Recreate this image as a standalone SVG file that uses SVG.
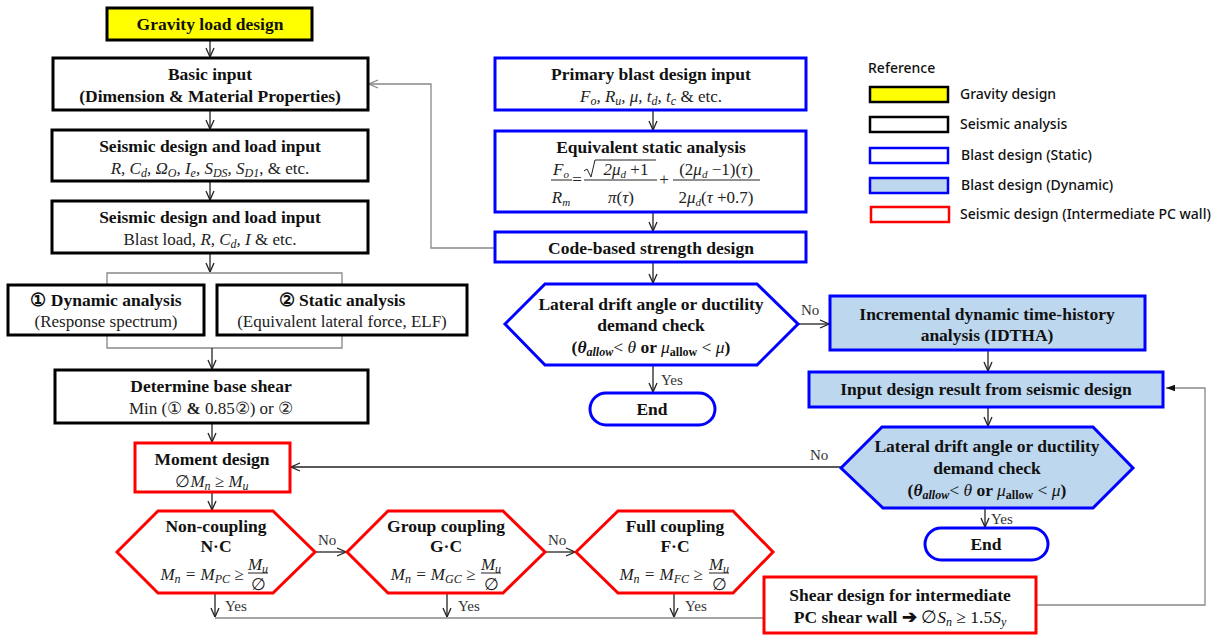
<svg xmlns="http://www.w3.org/2000/svg" width="1221" height="635" viewBox="0 0 1221 635">
<style>
.bk{fill:#fff;stroke:#000;stroke-width:3}
.yl{fill:#ffff00;stroke:#000;stroke-width:3}
.bl{fill:#fff;stroke:#0000ff;stroke-width:3}
.bd{fill:#bdd7ee;stroke:#0000ff;stroke-width:3}
.rd{fill:#fff;stroke:#ff0000;stroke-width:3}
.h{font-family:"Liberation Serif",serif;font-size:17.5px;font-weight:bold;text-anchor:middle;fill:#111}
.n{font-family:"Liberation Serif",serif;font-size:17px;text-anchor:middle;fill:#222}
.m{font-family:"Liberation Serif",serif;font-size:17px;font-style:italic;text-anchor:middle;fill:#222}
.lb{font-family:"Liberation Serif",serif;font-size:15px;fill:#333}
.c{fill:none;stroke:#222;stroke-width:1.3}
.g{fill:none;stroke:#888;stroke-width:1.3}
.fb{stroke:#222;stroke-width:1;fill:none}
.lg{font-family:"Noto Sans","Noto Sans CJK KR",sans-serif;font-size:14px;font-weight:500;fill:#111}
</style>
<defs>
<marker id="a" viewBox="0 0 10 10" refX="10" refY="5" markerWidth="10" markerHeight="10" markerUnits="userSpaceOnUse" orient="auto"><path d="M1,1 L10,5 L1,9" fill="none" stroke="#222" stroke-width="1.3"/></marker>
<marker id="ag" viewBox="0 0 10 10" refX="10" refY="5" markerWidth="10" markerHeight="10" markerUnits="userSpaceOnUse" orient="auto"><path d="M1,1 L10,5 L1,9" fill="none" stroke="#888" stroke-width="1.3"/></marker>
<marker id="af" viewBox="0 0 10 10" refX="10" refY="5" markerWidth="9" markerHeight="9" markerUnits="userSpaceOnUse" orient="auto"><path d="M0,1.5 L10,5 L0,8.5 Z" fill="#111"/></marker>
</defs>

<g id="connectors">
<line class="c" x1="210" y1="40" x2="210" y2="57" marker-end="url(#a)"/>
<line class="c" x1="210" y1="110" x2="210" y2="129" marker-end="url(#a)"/>
<line class="c" x1="210" y1="181" x2="210" y2="200" marker-end="url(#a)"/>
<line class="c" x1="210" y1="253" x2="210" y2="272" marker-end="url(#a)"/>
<path class="g" d="M107,284 V273 H342 V284"/>
<path class="g" d="M107,336 V348 H342 V336"/>
<line class="c" x1="212" y1="348" x2="212" y2="369" marker-end="url(#a)"/>
<line class="c" x1="212" y1="423" x2="212" y2="442" marker-end="url(#a)"/>
<line class="c" x1="212" y1="492" x2="212" y2="510" marker-end="url(#a)"/>
<line class="c" x1="315" y1="552" x2="346" y2="552" marker-end="url(#a)"/>
<line class="c" x1="545" y1="552" x2="575" y2="552" marker-end="url(#a)"/>
<line class="c" x1="215" y1="593" x2="215" y2="617" marker-end="url(#a)"/>
<line class="c" x1="447" y1="593" x2="447" y2="617" marker-end="url(#a)"/>
<line class="c" x1="674" y1="593" x2="674" y2="617" marker-end="url(#a)"/>
<line class="g" x1="215" y1="618" x2="764" y2="618"/>
<path class="g" d="M1036,605 H1205 V388 H1166" marker-end="url(#af)"/>
<line class="c" x1="653" y1="110" x2="653" y2="130" marker-end="url(#a)"/>
<line class="c" x1="653" y1="212" x2="653" y2="231" marker-end="url(#a)"/>
<path class="g" d="M495,248 H431 V84 H369" marker-end="url(#ag)"/>
<line class="c" x1="653" y1="262" x2="653" y2="283" marker-end="url(#a)"/>
<line class="c" x1="798" y1="324" x2="829" y2="324" marker-end="url(#a)"/>
<line class="c" x1="653" y1="365" x2="653" y2="392" marker-end="url(#a)"/>
<line class="c" x1="988" y1="350" x2="988" y2="371" marker-end="url(#a)"/>
<line class="c" x1="988" y1="407" x2="988" y2="426" marker-end="url(#a)"/>
<line class="c" x1="841" y1="467" x2="291" y2="467" marker-end="url(#a)"/>
<line class="c" x1="985" y1="508" x2="985" y2="527" marker-end="url(#a)"/>
<text class="lb" x="318" y="545">No</text>
<text class="lb" x="548" y="545">No</text>
<text class="lb" x="225" y="611">Yes</text>
<text class="lb" x="458" y="611">Yes</text>
<text class="lb" x="685" y="611">Yes</text>
<text class="lb" x="801" y="315">No</text>
<text class="lb" x="661" y="385">Yes</text>
<text class="lb" x="810" y="460">No</text>
<text class="lb" x="991" y="524">Yes</text>
</g>

<g id="gravity">
<rect class="yl" x="107" y="8" width="205" height="32"/>
<text class="h" x="210" y="30">Gravity load design</text>
</g>
<g id="basic-input">
<rect class="bk" x="53" y="58" width="315" height="52"/>
<text class="h" x="210" y="80">Basic input</text>
<text class="h" x="210" y="102">(Dimension &amp; Material Properties)</text>
</g>
<g id="seismic-input-1">
<rect class="bk" x="52" y="130" width="316" height="51"/>
<text class="h" x="210" y="152">Seismic design and load input</text>
<text class="m" x="210" y="174">R, C<tspan font-size="12" dy="3">d</tspan><tspan dy="-3">, Ω</tspan><tspan font-size="12" dy="3">O</tspan><tspan dy="-3">, I</tspan><tspan font-size="12" dy="3">e</tspan><tspan dy="-3">, S</tspan><tspan font-size="12" dy="3">DS</tspan><tspan dy="-3">, S</tspan><tspan font-size="12" dy="3">D1</tspan><tspan dy="-3" font-style="normal">, &amp; etc.</tspan></text>
</g>
<g id="seismic-input-2">
<rect class="bk" x="52" y="201" width="316" height="52"/>
<text class="h" x="210" y="223">Seismic design and load input</text>
<text class="n" x="210" y="245">Blast load, <tspan font-style="italic">R, C</tspan><tspan font-style="italic" font-size="12" dy="3">d</tspan><tspan dy="-3" font-style="italic">, I</tspan> &amp; etc.</text>
</g>
<g id="dynamic-analysis">
<rect class="bk" x="8" y="285" width="196" height="50"/>
<text class="h" x="106" y="306">① Dynamic analysis</text>
<text class="n" x="106" y="327">(Response spectrum)</text>
</g>
<g id="static-analysis">
<rect class="bk" x="217" y="285" width="250" height="50"/>
<text class="h" x="342" y="306">② Static  analysis</text>
<text class="n" x="342" y="327">(Equivalent lateral force, ELF)</text>
</g>
<g id="base-shear">
<rect class="bk" x="55" y="370" width="313" height="53"/>
<text class="h" x="211" y="392">Determine base shear</text>
<text class="n" x="211" y="414">Min (① <tspan font-weight="bold">&amp;</tspan> 0.85②) or ②</text>
</g>
<g id="moment-design">
<rect class="rd" x="135" y="443" width="155" height="49"/>
<text class="h" x="212" y="465">Moment design</text>
<text class="m" x="212" y="487"><tspan font-style="normal">∅</tspan>M<tspan font-size="12" dy="3">n</tspan><tspan dy="-3"> ≥ M</tspan><tspan font-size="12" dy="3">u</tspan></text>
</g>
<g id="non-coupling">
<polygon class="rd" points="117,552 158,511 273,511 315,552 273,593 158,593"/>
<text class="h" x="216" y="532">Non-coupling</text>
<text class="h" x="216" y="552">N·C</text>
<text class="m" x="202" y="580">M<tspan font-size="12" dy="3">n</tspan><tspan dy="-3"> = M</tspan><tspan font-size="12" dy="3">PC</tspan><tspan dy="-3"> ≥</tspan></text>
<text class="m" x="258" y="570">M<tspan font-size="12" dy="3">u</tspan></text>
<line class="fb" x1="248" y1="573" x2="268" y2="573"/>
<text class="n" x="258" y="590">∅</text>
</g>
<g id="group-coupling">
<polygon class="rd" points="347,552 388,511 503,511 545,552 503,593 388,593"/>
<text class="h" x="446" y="532">Group  coupling</text>
<text class="h" x="446" y="552">G·C</text>
<text class="m" x="433" y="580">M<tspan font-size="12" dy="3">n</tspan><tspan dy="-3"> = M</tspan><tspan font-size="12" dy="3">GC</tspan><tspan dy="-3"> ≥</tspan></text>
<text class="m" x="491" y="570">M<tspan font-size="12" dy="3">u</tspan></text>
<line class="fb" x1="481" y1="573" x2="501" y2="573"/>
<text class="n" x="491" y="590">∅</text>
</g>
<g id="full-coupling">
<polygon class="rd" points="576,552 618,511 733,511 773,552 733,593 618,593"/>
<text class="h" x="675" y="532">Full coupling</text>
<text class="h" x="675" y="552">F·C</text>
<text class="m" x="661" y="580">M<tspan font-size="12" dy="3">n</tspan><tspan dy="-3"> = M</tspan><tspan font-size="12" dy="3">FC</tspan><tspan dy="-3">  ≥</tspan></text>
<text class="m" x="719" y="570">M<tspan font-size="12" dy="3">u</tspan></text>
<line class="fb" x1="709" y1="573" x2="729" y2="573"/>
<text class="n" x="719" y="590">∅</text>
</g>
<g id="shear-design">
<rect class="rd" x="764" y="577" width="272" height="56"/>
<text class="h" x="900" y="601">Shear design for intermediate</text>
<text class="h" x="900" y="623">PC shear wall ➔ <tspan font-weight="normal">∅</tspan><tspan font-weight="normal" font-style="italic">S</tspan><tspan font-weight="normal" font-style="italic" font-size="12" dy="3">n</tspan><tspan font-weight="normal" dy="-3"> ≥ 1.5</tspan><tspan font-weight="normal" font-style="italic">S</tspan><tspan font-weight="normal" font-style="italic" font-size="12" dy="3">y</tspan></text>
</g>

<g id="primary-blast">
<rect class="bl" x="495" y="58" width="311" height="52"/>
<text class="h" x="651" y="80">Primary blast design input</text>
<text class="m" x="651" y="102">F<tspan font-size="12" dy="3">o</tspan><tspan dy="-3">, R</tspan><tspan font-size="12" dy="3">u</tspan><tspan dy="-3">, μ, t</tspan><tspan font-size="12" dy="3">d</tspan><tspan dy="-3">, t</tspan><tspan font-size="12" dy="3">c</tspan><tspan dy="-3" font-style="normal"> &amp; etc.</tspan></text>
</g>
<g id="equivalent-static">
<rect class="bl" x="495" y="131" width="311" height="81"/>
<text class="h" x="651" y="153">Equivalent static analysis</text>
<text class="m" x="561" y="175">F<tspan font-size="11" dy="3">o</tspan></text>
<line class="fb" x1="551" y1="180" x2="572" y2="180"/>
<text class="m" x="561" y="203">R<tspan font-size="11" dy="3">m</tspan></text>
<text class="n" x="577" y="185" font-size="15">=</text>
<path class="fb" d="M584,171 L587,169 L591,177 L595,160 H656"/>
<text class="m" x="626" y="175">2μ<tspan font-size="11" dy="3">d</tspan><tspan dy="-3" font-style="normal"> +1</tspan></text>
<line class="fb" x1="584" y1="180" x2="657" y2="180"/>
<text class="m" x="621" y="203">π<tspan font-style="normal">(</tspan>τ<tspan font-style="normal">)</tspan></text>
<text class="n" x="664" y="185" font-size="15">+</text>
<text class="m" x="716" y="175"><tspan font-style="normal">(2</tspan>μ<tspan font-size="11" dy="3">d</tspan><tspan dy="-3" font-style="normal"> −1)(</tspan>τ<tspan font-style="normal">)</tspan></text>
<line class="fb" x1="673" y1="180" x2="760" y2="180"/>
<text class="m" x="716" y="203"><tspan font-style="normal">2</tspan>μ<tspan font-size="11" dy="3">d</tspan><tspan dy="-3" font-style="normal">(</tspan>τ<tspan font-style="normal"> +0.7)</tspan></text>
</g>
<g id="code-based">
<rect class="bl" x="495" y="232" width="311" height="30"/>
<text class="h" x="651" y="254">Code-based strength design</text>
</g>
<g id="drift-check-1">
<polygon class="bl" points="505,324 545,284 757,284 798,324 757,365 545,365"/>
<text class="h" x="651" y="310">Lateral drift angle or ductility</text>
<text class="h" x="651" y="331">demand check</text>
<text class="h" x="651" y="353">(<tspan font-style="italic">θ</tspan><tspan font-style="italic" font-size="12" dy="3">allow</tspan><tspan dy="-3" font-weight="normal">&lt; </tspan><tspan font-style="italic" font-weight="normal">θ</tspan> or <tspan font-style="italic" font-weight="normal">μ</tspan><tspan font-size="12" dy="3">allow</tspan><tspan dy="-3" font-weight="normal"> &lt; </tspan><tspan font-style="italic" font-weight="normal">μ</tspan>)</text>
</g>
<g id="end-1">
<rect class="bl" x="590" y="393" width="125" height="32" rx="16"/>
<text class="h" x="652" y="415">End</text>
</g>
<g id="idtha">
<rect class="bd" x="830" y="296" width="315" height="54"/>
<text class="h" x="987" y="320">Incremental dynamic time-history</text>
<text class="h" x="987" y="341">analysis (IDTHA)</text>
</g>
<g id="input-design-result">
<rect class="bd" x="809" y="372" width="354" height="35"/>
<text class="h" x="986" y="395">Input design result from seismic design</text>
</g>
<g id="drift-check-2">
<polygon class="bd" points="841,468 882,427 1093,427 1133,468 1093,508 883,508"/>
<text class="h" x="987" y="452">Lateral drift angle or ductility</text>
<text class="h" x="987" y="474">demand check</text>
<text class="h" x="987" y="496">(<tspan font-style="italic">θ</tspan><tspan font-style="italic" font-size="12" dy="3">allow</tspan><tspan dy="-3" font-weight="normal">&lt; </tspan><tspan font-style="italic" font-weight="normal">θ</tspan> or <tspan font-style="italic" font-weight="normal">μ</tspan><tspan font-size="12" dy="3">allow</tspan><tspan dy="-3" font-weight="normal"> &lt; </tspan><tspan font-style="italic" font-weight="normal">μ</tspan>)</text>
</g>
<g id="end-2">
<rect class="bl" x="925" y="528" width="123" height="32" rx="16"/>
<text class="h" x="986" y="550">End</text>
</g>

<g id="legend">
<text class="lg" x="868" y="73" font-weight="bold">Reference</text>
<rect class="yl" x="870" y="87" width="78" height="15" style="stroke-width:2.5"/>
<text class="lg" x="960" y="99">Gravity design</text>
<rect class="bk" x="870" y="117" width="78" height="15" style="stroke-width:2.5"/>
<text class="lg" x="960" y="129">Seismic analysis</text>
<rect class="bl" x="870" y="148" width="78" height="15" style="stroke-width:2.5"/>
<text class="lg" x="961" y="160">Blast design (Static)</text>
<rect class="bd" x="870" y="178" width="78" height="15" style="stroke-width:2.5"/>
<text class="lg" x="961" y="190">Blast design (Dynamic)</text>
<rect class="rd" x="871" y="207" width="78" height="15" style="stroke-width:2.5"/>
<text class="lg" x="960" y="219">Seismic design (Intermediate PC wall)</text>
</g>
</svg>
